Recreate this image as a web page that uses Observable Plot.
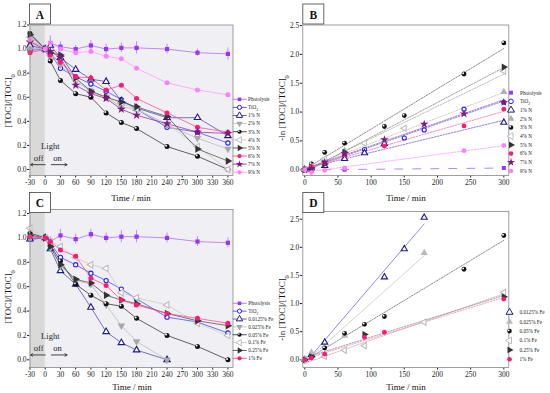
<!DOCTYPE html>
<html><head><meta charset="utf-8">
<script src="https://cdn.jsdelivr.net/npm/d3@7"></script>
<script src="https://cdn.jsdelivr.net/npm/@observablehq/plot@0.6"></script>
<style>
html,body{margin:0;padding:0;background:#fff;}
#root{position:relative;width:550px;height:393px;overflow:hidden;font-family:"Liberation Serif","Times New Roman",serif;}
#root svg{position:absolute;}
</style></head><body><div id="root"></div>
<script>
// ---------- DATA ----------
// Panel A: [TOC]/[TOC]0 vs time, N-doped
const timeA = [-30, 0, 10, 30, 60, 90, 120, 150, 180, 240, 300, 360];
const labelsA = ["Photolysis","TiO2","1% N","2% N","3% N","4% N","5% N","6% N","7% N","9% N"];
const photoA = [1.00, 1.00, 1.05, 1.02, 1.00, 1.03, 1.00, 1.01, 1.01, 1.00, 0.97, 0.96];
const photoErrA = [0.02, 0.02, 0.06, 0.04, 0.03, 0.04, 0.04, 0.04, 0.05, 0.04, 0.03, 0.05];
const tio2A = [0.99, 1.00, 0.96, 0.84, 0.77, 0.71, 0.65, 0.58, 0.50, 0.35, 0.31, 0.22];
const n1A = [1.03, 1.00, 1.03, 0.93, 0.83, 0.75, 0.73, 0.57, 0.51, 0.43, 0.43, 0.28];
const n2A = [1.00, 1.00, 0.93, 0.87, 0.73, 0.65, 0.60, 0.52, 0.50, 0.37, 0.26, 0.17];
const n3A = [1.13, 1.00, 0.90, 0.74, 0.63, 0.60, 0.47, 0.39, 0.34, 0.19, 0.11, 0.00];
const n4A = [1.10, 1.00, 0.95, 0.90, 0.75, 0.65, 0.60, 0.55, 0.50, 0.38, 0.19, 0.00];
const n5A = [1.12, 1.00, 0.97, 0.95, 0.76, 0.65, 0.60, 0.56, 0.52, 0.44, 0.17, 0.07];
const n6A = [0.97, 1.00, 0.95, 0.89, 0.77, 0.76, 0.66, 0.70, 0.59, 0.47, 0.35, 0.31];
const n7A = [1.06, 1.00, 0.98, 0.93, 0.70, 0.63, 0.59, 0.50, 0.45, 0.38, 0.31, 0.30];
const n9A = [1.08, 1.00, 1.05, 1.00, 0.97, 0.98, 0.94, 0.92, 0.84, 0.72, 0.66, 0.62];

// Panel B: -ln([TOC]/[TOC]0) vs time, N-doped
const timeB = [0, 10, 30, 60, 90, 120, 150, 180, 240, 300];
const labelsB = ["Photolysis","TiO2","1% N","2% N","3% N","4% N","5% N","6% N","7% N","9% N"];
const photoB = [0, null, null, 0.00, null, null, null, null, null, 0.03];
const tio2B = [0, 0.04, 0.17, 0.25, 0.35, 0.43, 0.55, 0.69, 1.05, 1.17];
const n1B = [0, 0.03, 0.07, 0.19, 0.29, 0.45, null, null, null, 0.82];
const n2B = [0, 0.07, 0.15, 0.33, null, 0.50, null, null, null, 1.35];
const n3B = [0, 0.10, 0.30, 0.46, null, 0.75, 0.94, null, 1.66, 2.20];
const n4B = [0, 0.05, 0.19, null, 0.46, null, 0.72, null, null, 1.71];
const n5B = [0, 0.03, 0.10, 0.30, null, null, null, null, null, 1.78];
const n6B = [0, 0.05, 0.12, 0.26, null, 0.41, null, null, 0.76, 1.05];
const n7B = [0, 0.02, 0.13, 0.28, null, 0.52, null, 0.79, 0.97, 1.17];
const n9B = [0, -0.05, -0.01, 0.03, null, null, null, null, 0.33, 0.42];

// Panel C: [TOC]/[TOC]0 vs time, Fe-doped
const timeC = [-30, 0, 10, 30, 60, 90, 120, 150, 180, 240, 300, 360];
const labelsC = ["Photolysis","TiO2","0.0125% Fe","0.025% Fe","0.05% Fe","0.1% Fe","0.25% Fe","1% Fe"];
const photoC = [1.00, 1.00, 0.97, 1.02, 0.99, 1.03, 1.00, 1.01, 1.01, 1.00, 0.97, 0.96];
const photoErrC = [0.02, 0.02, 0.04, 0.05, 0.04, 0.04, 0.04, 0.05, 0.05, 0.04, 0.04, 0.04];
const tio2C = [0.99, 1.00, 0.96, 0.84, 0.78, 0.71, 0.65, 0.58, 0.50, 0.35, 0.31, 0.22];
const fe0125C = [0.99, 1.00, 0.91, 0.73, 0.62, 0.43, 0.23, 0.14, 0.08, 0.00, null, null];
const fe025C = [1.00, 1.00, 0.92, 0.77, 0.65, 0.62, 0.45, 0.28, 0.15, 0.00, null, null];
const fe05C = [1.04, 1.00, 0.94, 0.81, 0.62, 0.53, 0.46, 0.44, 0.34, 0.20, 0.11, 0.00];
const fe1C = [1.08, 1.00, 0.97, 0.93, 0.84, 0.78, 0.75, 0.55, 0.51, 0.45, 0.30, 0.20];
const fe25C = [1.02, 1.00, 0.93, 0.78, 0.66, 0.63, 0.53, 0.49, 0.46, 0.38, 0.32, 0.28];
const fe100C = [1.01, 1.00, 0.97, 0.90, 0.85, 0.67, 0.61, 0.49, 0.45, 0.38, 0.34, 0.30];

// Panel D: -ln([TOC]/[TOC]0) vs time, Fe-doped
const timeD = [0, 10, 30, 60, 90, 120, 150, 180, 240, 300];
const labelsD = ["0.0125% Fe","0.025% Fe","0.05% Fe","0.1% Fe","0.25% Fe","1% Fe"];
const fe0125D = [0, 0.09, 0.31, null, null, 1.47, 1.97, 2.53, null, null];
const fe025D = [0, 0.13, null, 0.43, null, null, null, 1.90, null, null];
const fe05D = [0, 0.05, 0.21, 0.47, 0.63, 0.77, null, null, 1.61, 2.21];
const fe1D = [0, null, 0.06, 0.17, 0.25, null, null, 0.67, null, 1.20];
const fe25D = [0, 0.05, null, null, 0.45, null, null, null, null, 1.12];
const fe100D = [0, 0.03, 0.10, null, 0.40, 0.49, null, null, null, 1.08];

// Tick values
const xTicksAC = [-30, 0, 30, 60, 90, 120, 150, 180, 210, 240, 270, 300, 330, 360];
const yTicksAC = [0, 0.2, 0.4, 0.6, 0.8, 1.0, 1.2];
const xTicksBD = [0, 50, 100, 150, 200, 250, 300];
const yTicksBD = [0, 0.5, 1.0, 1.5, 2.0, 2.5];
const lightOff = [-30, 0];
const annotText = [{x: 10, y: 0.19, t: "Light"}, {x: -13, y: 0.095, t: "off"}, {x: 24, y: 0.095, t: "on"}];
const annotArrows = [{x1: 0, x2: -29, y: 0.04}, {x1: 12, x2: 43, y: 0.04}];

// ---------- STYLES ----------
const S3 = Math.sqrt(3);
const tk = s => -Math.sqrt(s / (S3 * 3));
const symTriDown = {draw(c, s){const y = tk(s); c.moveTo(0, -2*y); c.lineTo(S3*y, y); c.lineTo(-S3*y, y); c.closePath();}};
const symTriLeft = {draw(c, s){const y = tk(s); c.moveTo(2*y, 0); c.lineTo(-y, S3*y); c.lineTo(-y, -S3*y); c.closePath();}};
const symTriRight = {draw(c, s){const y = tk(s); c.moveTo(-2*y, 0); c.lineTo(y, S3*y); c.lineTo(y, -S3*y); c.closePath();}};
const SYM = {square: d3.symbolSquare, circle: d3.symbolCircle, circleOpen: d3.symbolCircle, triOpen: d3.symbolTriangle,
  triUp: d3.symbolTriangle, triDown: symTriDown, triLeftOpen: symTriLeft, triRight: symTriRight, star: d3.symbolStar, ball: d3.symbolCircle};
const OPEN = new Set(["circleOpen", "triOpen", "triLeftOpen"]);
const TRI = new Set(["triOpen","triUp","triDown","triLeftOpen","triRight"]);

const stPhoto = {m: "square", c: "#9933ff", l: "#b36bff"};
const stTio2 = {m: "circleOpen", c: "#1f1fff", l: "#4d4dff"};
const stNavy = {m: "triOpen", c: "#1a1a8c", l: "#5050b0"};
const stGreyDown = {m: "triDown", c: "#a8a8a8", l: "#bdbdbd"};
const stBall = {m: "ball", c: "#111", l: "#3a3a3a"};
const stGreyLeft = {m: "triLeftOpen", c: "#bdbdbd", l: "#cacaca"};
const stDarkRight = {m: "triRight", c: "#333", l: "#555"};
const stPink = {m: "circle", c: "#ff1a75", l: "#ff4d94"};
const stStar = {m: "star", c: "#80197f", l: "#993399"};
const stLightPink = {m: "circle", c: "#ff80ff", l: "#ff99ff"};

const FONT = '"Liberation Serif","Times New Roman",serif';
const R = 2.5;
const scaleFor = m => TRI.has(m) ? 1.12 : (m === "star" ? 1.12 : (m === "square" ? 0.95 : 1));

function rows(xs, ys) { return xs.map((x, i) => ({x, y: ys[i]})).filter(d => d.y != null); }

function markerMarks(data, st, r = R) {
  const sym = SYM[st.m];
  const rr = r * scaleFor(st.m);
  if (st.m === "ball") return [
    Plot.dot(data, {x: "x", y: "y", r, fill: "#111"}),
    Plot.dot(data, {x: "x", y: "y", r: r * 0.4, fill: "#fff", dx: -r * 0.35, dy: -r * 0.35})
  ];
  if (OPEN.has(st.m)) return [Plot.dot(data, {x: "x", y: "y", r: rr * 0.85, symbol: sym, fill: "#fff", stroke: st.c, strokeWidth: 1.1})];
  return [Plot.dot(data, {x: "x", y: "y", r: rr, symbol: sym, fill: st.c})];
}

const intFmt = d => d < 0 ? "-" + (-d) : String(d);

function basePlot(o) {
  return Plot.plot({
    width: 275, height: o.height,
    marginLeft: o.ml, marginRight: o.mr, marginTop: o.mt, marginBottom: o.mb,
    x: {domain: o.xd, ticks: o.xt, tickFormat: intFmt, tickSize: 2.5, tickPadding: 1.5, label: null},
    y: {domain: o.yd, ticks: o.yt, tickFormat: d => d.toFixed(1), tickSize: 2.5, tickPadding: 1, label: null},
    style: {fontFamily: FONT, fontSize: "7.5px", color: "#222", background: "transparent", overflow: "visible"},
    marks: o.marks
  });
}

function decayMarks(time, seriesVals, styles, errVals, bg) {
  const marks = [Plot.frame({fill: bg, stroke: "none"}),
    Plot.rect([{x1: lightOff[0], x2: lightOff[1]}], {x1: "x1", x2: "x2", fill: "#d9d9d9"})];
  seriesVals.forEach((vals, i) => {
    const data = rows(time, vals);
    marks.push(Plot.line(data, {x: "x", y: "y", stroke: styles[i].l, strokeWidth: 0.8}));
  });
  const ed = time.map((x, i) => ({x, lo: seriesVals[0][i] - errVals[i], hi: seriesVals[0][i] + errVals[i]}));
  marks.push(Plot.ruleX(ed, {x: "x", y1: "lo", y2: "hi", stroke: "#b36bff", strokeWidth: 0.8}));
  seriesVals.forEach((vals, i) => marks.push(...markerMarks(rows(time, vals), styles[i])));
  marks.push(Plot.text(annotText, {x: "x", y: "y", text: "t", fontSize: 8.5, fill: "#222", fontFamily: FONT}));
  marks.push(Plot.arrow(annotArrows, {x1: "x1", x2: "x2", y1: "y", y2: "y", stroke: "#333", strokeWidth: 0.9, headLength: 4}));
  marks.push(Plot.frame({stroke: "#888", strokeWidth: 0.8}));
  return marks;
}

function kineticMarks(time, seriesVals, styles, lines) {
  const marks = [Plot.frame({fill: "#fff", stroke: "none"})];
  seriesVals.forEach((vals, i) => {
    const data = rows(time, vals);
    marks.push(Plot.linearRegressionY(data, {x: "x", y: "y", stroke: lines[i].c, strokeWidth: lines[i].w || 0.8, strokeDasharray: lines[i].d, ci: 0}));
  });
  seriesVals.forEach((vals, i) => marks.push(...markerMarks(rows(time, vals), styles[i], 2.4)));
  marks.push(Plot.frame({stroke: "#888", strokeWidth: 0.8}));
  return marks;
}

const root = document.getElementById("root");
function place(el, left, top) { el.style.left = left + "px"; el.style.top = top + "px"; root.appendChild(el); }

// Panel A
const stylesA = [stPhoto, stTio2, stNavy, stGreyDown, stBall, stGreyLeft, stDarkRight, stPink, stStar, stLightPink];
const valsA = [photoA, tio2A, n1A, n2A, n3A, n4A, n5A, n6A, n7A, n9A];
place(basePlot({height: 196, ml: 29.5, mr: 42.5, mt: 24.5, mb: 21, xd: [-30, 370], xt: xTicksAC, yd: [-0.05, 1.2], yt: yTicksAC,
  marks: decayMarks(timeA, valsA, stylesA, photoErrA, "#f0f0f4")}), 0, 0);

// Panel B
const stylesB = [stPhoto, stTio2, stNavy, {m: "triUp", c: "#b0b0b0"}, stBall, stGreyLeft, stDarkRight, stPink, stStar, stLightPink];
const valsB = [photoB, tio2B, n1B, n2B, n3B, n4B, n5B, n6B, n7B, n9B];
const dot = "1.6,1.3";
const linesB = [{c: "#9966ff", d: "8,10"}, {c: "#6f6fff", d: dot}, {c: "#6a6acc", d: dot}, {c: "#c4c4c4", d: dot}, {c: "#707070", d: dot},
  {c: "#aaaaaa", d: dot}, {c: "#8a8a8a", d: dot}, {c: "#ff6fa6", d: dot}, {c: "#a850a8", d: dot}, {c: "#ff99ff", d: dot}];
place(basePlot({height: 196, ml: 27.3, mr: 41.7, mt: 24.5, mb: 21, xd: [-3, 307.5], xt: xTicksBD, yd: [-0.1, 2.51], yt: yTicksBD,
  marks: kineticMarks(timeB, valsB, stylesB, linesB)}), 275, 0);

// Panel C
const stylesC = [stPhoto, stTio2, stNavy, stGreyDown, stBall, stGreyLeft, stDarkRight, stPink];
const valsC = [photoC, tio2C, fe0125C, fe025C, fe05C, fe1C, fe25C, fe100C];
place(basePlot({height: 197, ml: 29.5, mr: 42.5, mt: 13, mb: 26, xd: [-30, 370], xt: xTicksAC, yd: [-0.063, 1.233], yt: yTicksAC,
  marks: decayMarks(timeC, valsC, stylesC, photoErrC, "#f0f0f4")}), 0, 196);

// Panel D
const stylesD = [stNavy, {m: "triUp", c: "#b8b8b8"}, stBall, stGreyLeft, stDarkRight, stPink];
const valsD = [fe0125D, fe025D, fe05D, fe1D, fe25D, fe100D];
const linesD = [{c: "#8080e0", w: 0.9}, {c: "#cfcfcf", w: 0.9}, {c: "#707070", d: dot}, {c: "#b0b0b0", d: dot}, {c: "#909090", d: dot}, {c: "#ff8ab8", d: dot}];
place(basePlot({height: 197, ml: 27.3, mr: 41.7, mt: 15, mb: 26, xd: [-3, 307.5], xt: xTicksBD, yd: [-0.137, 2.637], yt: yTicksBD,
  marks: kineticMarks(timeD, valsD, stylesD, linesD)}), 275, 196);

// ---------- Overlay: panel letters, axis titles, legends ----------
const ov = d3.create("svg").attr("width", 550).attr("height", 393).style("left", "0px").style("top", "0px")
  .style("font-family", FONT);
root.appendChild(ov.node());

[["A", 29.5, 4], ["B", 302.8, 4], ["C", 29.5, 192.5], ["D", 302.8, 192.5]].forEach(([t, x, y]) => {
  ov.append("rect").attr("x", x).attr("y", y).attr("width", 21).attr("height", 20).attr("fill", "#fff").attr("stroke", "#555").attr("stroke-width", 0.9);
  ov.append("text").attr("x", x + 10.5).attr("y", y + 14.5).attr("text-anchor", "middle").attr("font-weight", "bold").attr("font-size", 11.5).attr("fill", "#111").text(t);
});

function subText(g, main, sub, fs) {
  const t = g.append("text").attr("font-size", fs).attr("fill", "#111").attr("text-anchor", "middle");
  t.append("tspan").text(main);
  t.append("tspan").attr("baseline-shift", "sub").attr("font-size", fs * 0.7).text(sub);
  return t;
}
[[11, 101, "[TOC]/[TOC]"], [285, 108, "-ln [TOC]/[TOC]"], [11, 297, "[TOC]/[TOC]"], [285, 308, "-ln [TOC]/[TOC]"]].forEach(([x, y, s]) => {
  subText(ov.append("g").attr("transform", `translate(${x},${y}) rotate(-90)`), s, "0", 9);
});
[[131, 200.5], [406, 200.5], [132, 389.5], [406, 389.5]].forEach(([x, y]) => {
  ov.append("text").attr("x", x).attr("y", y).attr("text-anchor", "middle").attr("font-size", 9).attr("fill", "#111").text("Time / min");
});

function legendMarker(g, st, x, y, r) {
  const rr = r * scaleFor(st.m);
  if (st.m === "ball") {
    g.append("circle").attr("cx", x).attr("cy", y).attr("r", r).attr("fill", "#111");
    g.append("circle").attr("cx", x - r * 0.35).attr("cy", y - r * 0.35).attr("r", r * 0.4).attr("fill", "#fff");
    return;
  }
  const p = g.append("path").attr("transform", `translate(${x},${y})`)
    .attr("d", d3.symbol(SYM[st.m], Math.PI * rr * rr)());
  if (OPEN.has(st.m)) p.attr("fill", "#fff").attr("stroke", st.c).attr("stroke-width", 1);
  else p.attr("fill", st.c);
}
function legendLabel(g, s, x, y) {
  const t = g.append("text").attr("x", x).attr("y", y + 1.8).attr("font-size", 5.2).attr("fill", "#222");
  if (s === "TiO2") { t.append("tspan").text("TiO"); t.append("tspan").attr("baseline-shift", "sub").attr("font-size", 3.8).text("2"); }
  else t.text(s);
}
function legend(labels, styles, opts) {
  const g = ov.append("g");
  labels.forEach((s, i) => {
    const y = opts.y0 + i * opts.step;
    if (opts.line) g.append("line").attr("x1", opts.lx1).attr("x2", opts.lx2).attr("y1", y).attr("y2", y).attr("stroke", styles[i].l).attr("stroke-width", 0.9);
    legendMarker(g, styles[i], opts.mx, y, opts.r);
    legendLabel(g, s, opts.tx, y);
  });
}
legend(labelsA, stylesA, {y0: 99.3, step: 8.11, line: true, lx1: 232.7, lx2: 246.7, mx: 239.5, tx: 248, r: 2.1});
legend(labelsB, stylesB, {y0: 92.7, step: 8.7, line: false, mx: 511, tx: 520, r: 2.3});
legend(labelsC, stylesC, {y0: 303.3, step: 7.86, line: true, lx1: 232.7, lx2: 246.7, mx: 239.5, tx: 248.3, r: 2.1});
legend(labelsD, stylesD, {y0: 312.3, step: 9.4, line: false, mx: 509.5, tx: 519.5, r: 2.3});
</script></body></html>
